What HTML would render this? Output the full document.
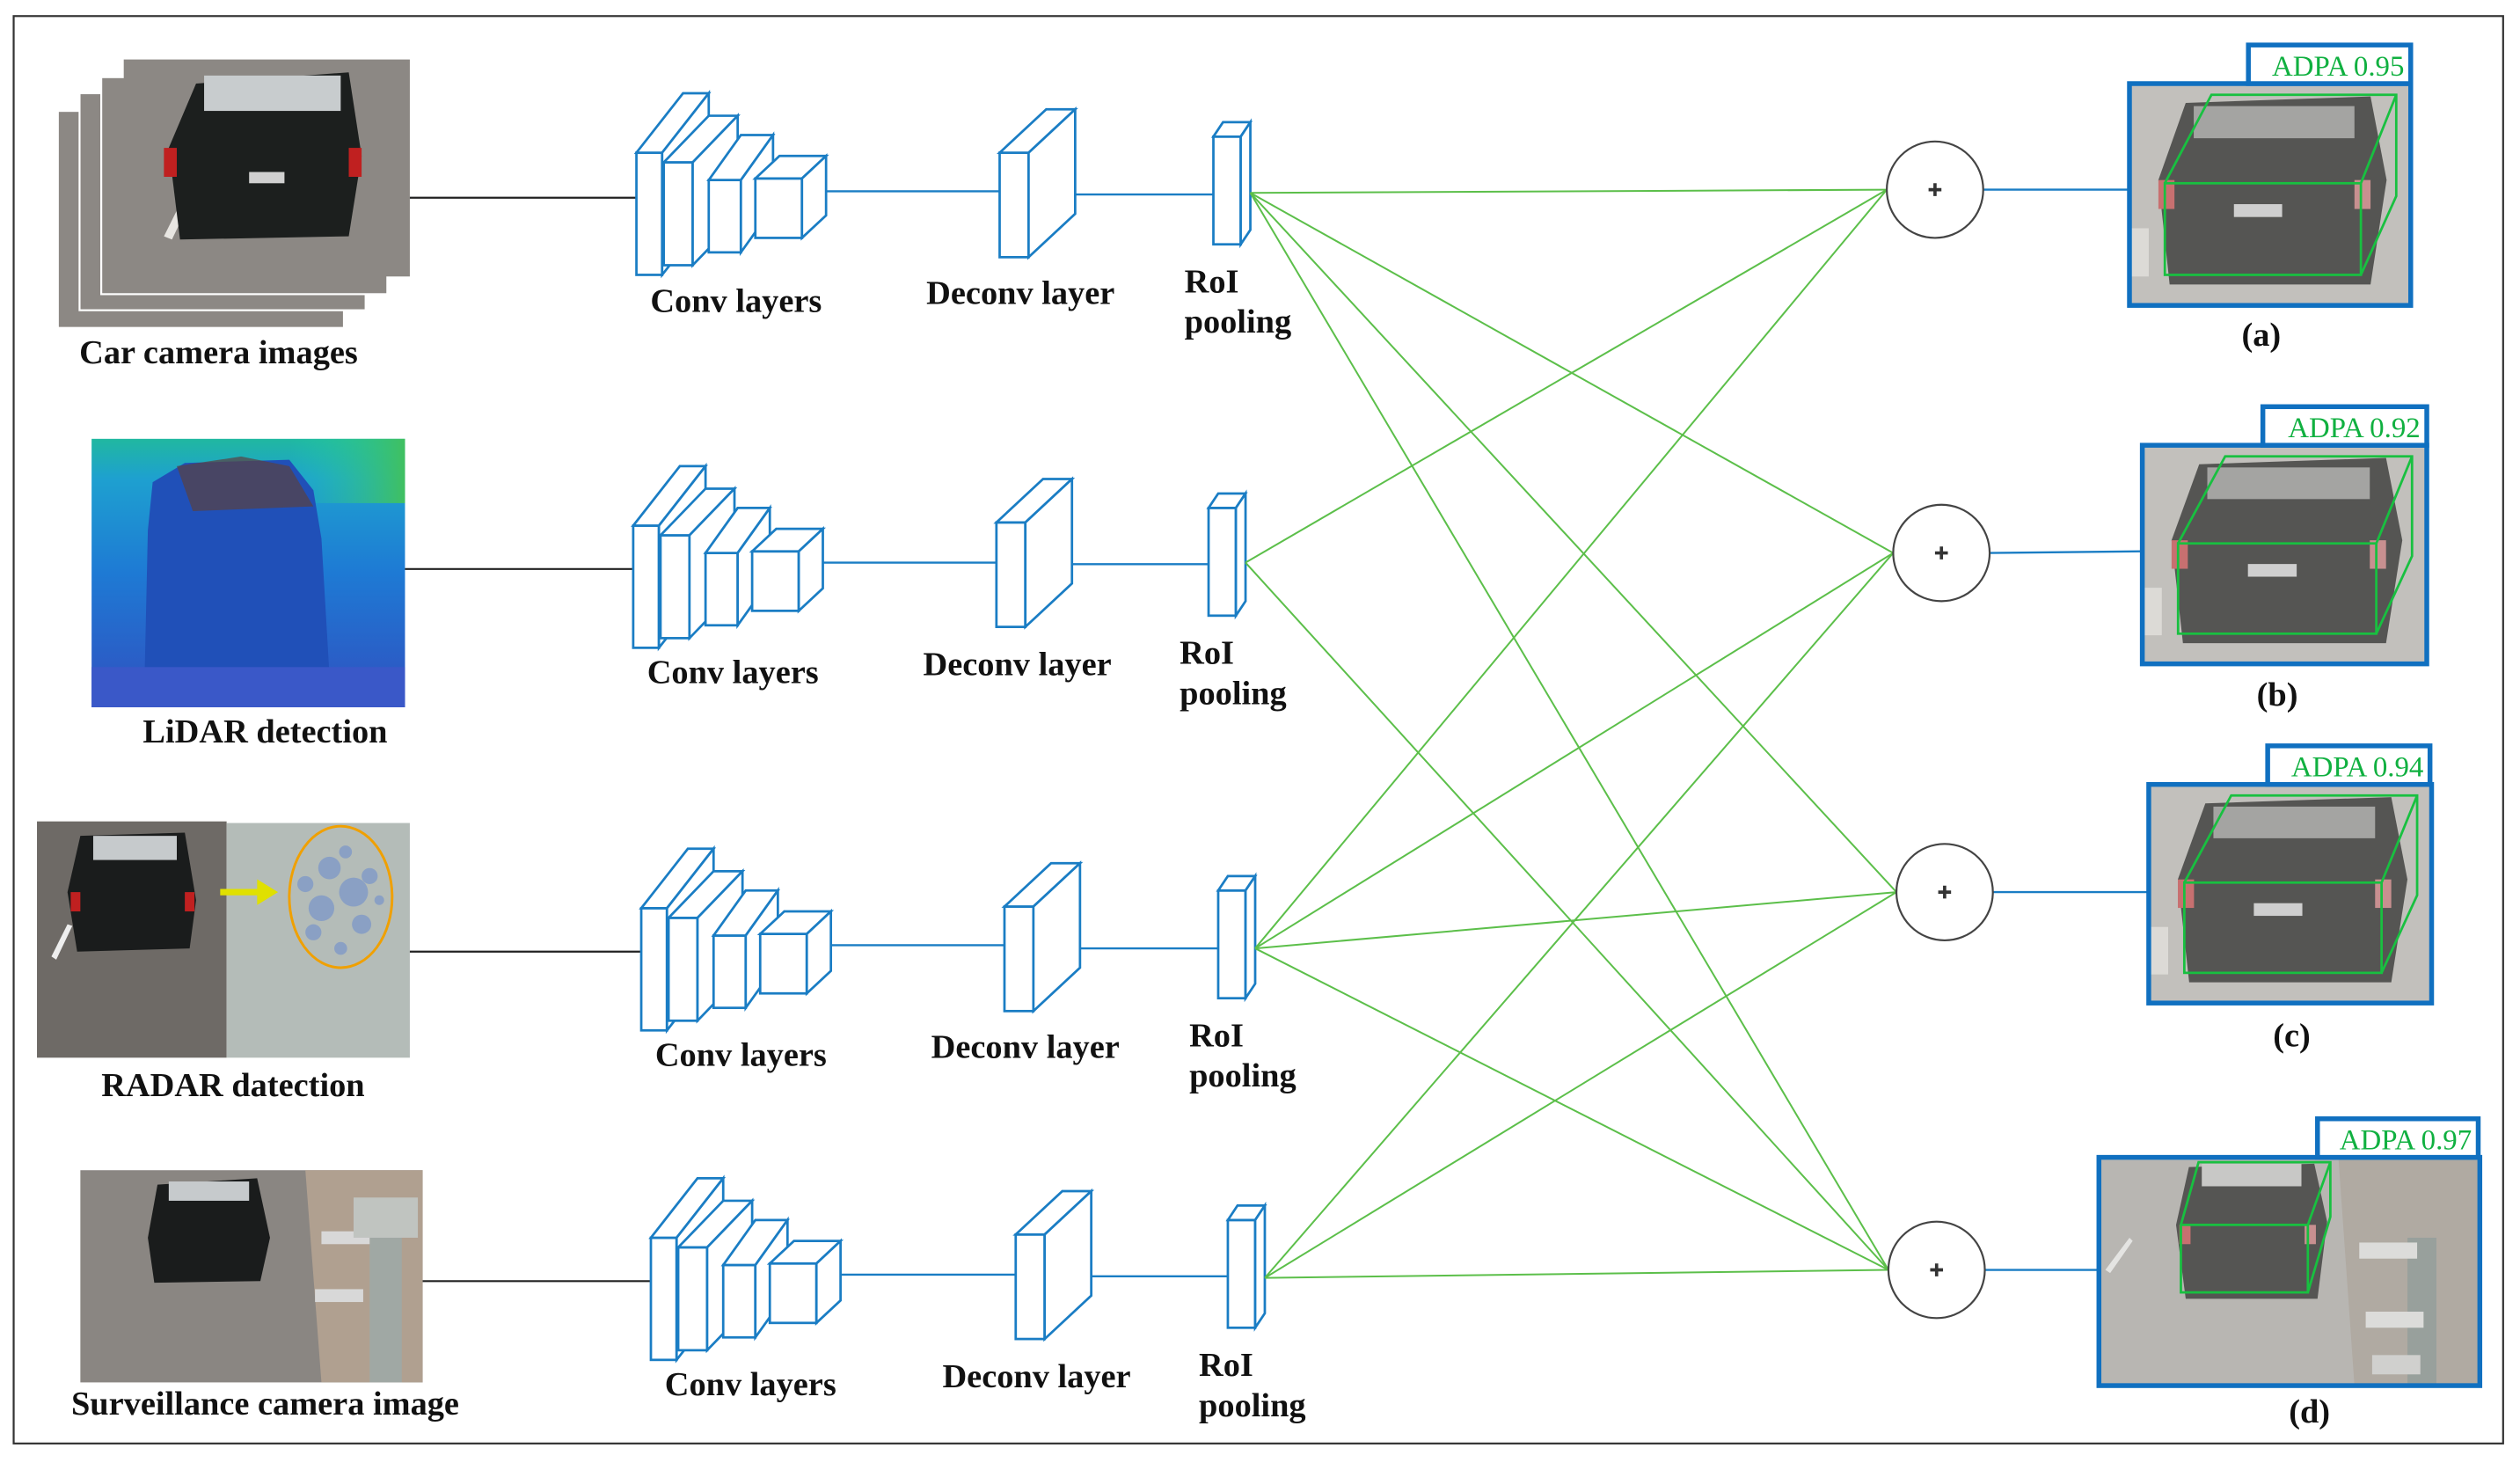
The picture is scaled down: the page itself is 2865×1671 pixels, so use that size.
<!DOCTYPE html>
<html><head><meta charset="utf-8"><style>
html,body{margin:0;padding:0;background:#fff;}
svg{display:block;}
text{font-family:"Liberation Serif",serif;}
.lb{font-weight:bold;font-size:21px;fill:#111;}
.ad{font-size:18px;fill:#10b040;}
</style></head><body>
<svg width="2865" height="1671" viewBox="0 0 1568 914.5" preserveAspectRatio="none" xmlns="http://www.w3.org/2000/svg">
<defs>
<g id="conv" fill="#fff" stroke="#1a7dc4" stroke-width="1.5" stroke-linejoin="miter">
 <rect x="0" y="38" width="16" height="76"/><polygon points="0,38 29,1 45,1 16,38"/><polygon points="16,38 45,1 45,77 16,114"/>
 <rect x="17" y="44" width="18" height="64"/><polygon points="17,44 45,15 63,15 35,44"/><polygon points="35,44 63,15 63,79 35,108"/>
 <rect x="45" y="55" width="20" height="45"/><polygon points="45,55 65,27 85,27 65,55"/><polygon points="65,55 85,27 85,72 65,100"/>
 <rect x="74" y="54" width="29" height="37"/><polygon points="74,54 89,40 118,40 103,54"/><polygon points="103,54 118,40 118,77 103,91"/>
</g>
<g id="deconv" fill="#fff" stroke="#1a7dc4" stroke-width="1.5">
 <rect x="0" y="27" width="18" height="65"/><polygon points="0,27 29,0 47,0 18,27"/><polygon points="18,27 47,0 47,65 18,92"/>
</g>
<g id="roi" fill="#fff" stroke="#1a7dc4" stroke-width="1.5">
 <rect x="0" y="9" width="17" height="67"/><polygon points="0,9 6,0 23,0 17,9"/><polygon points="17,9 23,0 23,67 17,76"/>
</g>
<g id="outpic">
 <rect x="0" y="0" width="175" height="138" fill="#c2c0bc"/>
 <rect x="0" y="90" width="12" height="30" fill="#dcdad6"/>
 <path d="M35,12 L150,8 L160,60 L150,125 L25,125 L18,60 Z" fill="#555553"/>
 <rect x="40" y="14" width="100" height="20" fill="#a4a4a2"/>
 <rect x="18" y="60" width="10" height="18" fill="#c87070"/><rect x="140" y="60" width="10" height="18" fill="#c89090"/>
 <rect x="65" y="75" width="30" height="8" fill="#cfcfcf"/>
 <g fill="none" stroke="#18c040" stroke-width="1.5">
  <rect x="22" y="62" width="122" height="57"/>
  <polyline points="22,62 51,7 166,7 166,70 144,119"/><line x1="144" y1="62" x2="166" y2="7"/>
 </g>
</g>
<g id="carimg">
 <rect x="0" y="0" width="178" height="135" fill="#8c8884"/>
 <path d="M25,110 L45,70 L50,70 L30,112Z" fill="#e8e6e2"/>
 <path d="M45,15 L140,8 L148,60 L140,110 L35,112 L28,55 Z" fill="#1c1f1e"/>
 <rect x="50" y="10" width="85" height="22" fill="#c8ccce"/>
 <rect x="25" y="55" width="8" height="18" fill="#c02020"/><rect x="140" y="55" width="8" height="18" fill="#c02020"/>
 <rect x="78" y="70" width="22" height="7" fill="#d0d0d0"/>
</g>
</defs>
<rect x="8.5" y="10" width="1549" height="888" fill="none" stroke="#333" stroke-width="1.2"/>

<g stroke="#fff" stroke-width="1.2">
 <rect x="36" y="69" width="178" height="135" fill="#8c8884"/>
 <rect x="49.5" y="58" width="178" height="135" fill="#8c8884"/>
 <rect x="63" y="48" width="178" height="135" fill="#8c8884"/>
</g>
<use href="#carimg" x="77" y="37"/>
<defs><linearGradient id="lg" x1="0" y1="0" x2="0" y2="1">
<stop offset="0" stop-color="#20b8a0"/><stop offset="0.15" stop-color="#1ea0d0"/><stop offset="0.5" stop-color="#1e7ad4"/><stop offset="1" stop-color="#3050c0"/></linearGradient>
<linearGradient id="lg2" x1="0" y1="0" x2="1" y2="0"><stop offset="0" stop-color="#20d0b0" stop-opacity="0"/><stop offset="1" stop-color="#40c060"/></linearGradient></defs>
<rect x="57" y="273" width="195" height="167" fill="url(#lg)"/>
<rect x="180" y="273" width="72" height="40" fill="url(#lg2)"/>
<path d="M95,300 L115,288 L180,286 L195,305 L200,335 L205,420 L90,420 L92,330Z" fill="#2050b8"/>
<path d="M110,290 L150,284 L180,290 L195,315 L120,318Z" fill="#5a4040" opacity="0.7"/>
<rect x="57" y="415" width="195" height="25" fill="#3a58c8"/>
<rect x="23" y="511" width="118" height="147" fill="#6e6a66"/>
<path d="M50,520 L115,518 L122,560 L118,590 L48,592 L42,555Z" fill="#1a1c1c"/>
<rect x="58" y="520" width="52" height="15" fill="#c6cacc"/>
<rect x="44" y="555" width="6" height="12" fill="#c02020"/><rect x="115" y="555" width="6" height="12" fill="#c02020"/>
<path d="M32,595 L42,575 L45,576 L35,597Z" fill="#eee"/>
<rect x="141" y="512" width="114" height="146" fill="#b4bcb8"/>
<line x1="137" y1="555" x2="165" y2="555" stroke="#e0e000" stroke-width="4"/>
<polygon points="160,547 173,555 160,563" fill="#e0e000"/>
<ellipse cx="212" cy="558" rx="32" ry="44" fill="#b4bcb8" stroke="#f0a000" stroke-width="1.6"/>
<g fill="#8aa0c4"><circle cx="205" cy="540" r="7"/><circle cx="220" cy="555" r="9"/><circle cx="200" cy="565" r="8"/><circle cx="225" cy="575" r="6"/><circle cx="195" cy="580" r="5"/><circle cx="212" cy="590" r="4"/><circle cx="230" cy="545" r="5"/><circle cx="190" cy="550" r="5"/><circle cx="215" cy="530" r="4"/><circle cx="236" cy="560" r="3"/></g>
<rect x="50" y="728" width="213" height="132" fill="#8a8682"/>
<path d="M98,737 L160,733 L168,770 L162,797 L96,798 L92,770Z" fill="#1a1c1c"/>
<rect x="105" y="735" width="50" height="12" fill="#c6cacc"/>
<path d="M190,728 L263,728 L263,860 L200,860Z" fill="#b0a090"/>
<rect x="230" y="765" width="20" height="95" fill="#a0a8a4"/>
<rect x="200" y="766" width="30" height="8" fill="#d8d8d8"/><rect x="196" y="802" width="30" height="8" fill="#d8d8d8"/><rect x="220" y="745" width="40" height="25" fill="#c0c4c0"/>

<g stroke="#222" stroke-width="1.2">
<line x1="255" y1="123" x2="396" y2="123"/><line x1="252" y1="354" x2="394" y2="354"/>
<line x1="255" y1="592" x2="399" y2="592"/><line x1="263" y1="797" x2="405" y2="797"/>
</g>
<g stroke="#1a7dc4" stroke-width="1.3">
<line x1="507" y1="119" x2="622" y2="119"/><line x1="660" y1="121" x2="755" y2="121"/>
<line x1="505" y1="350" x2="620" y2="350"/><line x1="658" y1="351" x2="752" y2="351"/>
<line x1="510" y1="588" x2="625" y2="588"/><line x1="665" y1="590" x2="758" y2="590"/>
<line x1="516" y1="793" x2="632" y2="793"/><line x1="670" y1="794" x2="764" y2="794"/>
<line x1="1234" y1="118" x2="1325" y2="118"/><line x1="1238" y1="344" x2="1333" y2="343"/>
<line x1="1240" y1="555" x2="1337" y2="555"/><line x1="1235" y1="790" x2="1306" y2="790"/>
</g>
<use href="#conv" x="396" y="57"/><use href="#conv" x="394" y="289"/><use href="#conv" x="399" y="527"/><use href="#conv" x="405" y="732"/>
<use href="#deconv" x="622" y="68"/><use href="#deconv" x="620" y="298"/><use href="#deconv" x="625" y="537"/><use href="#deconv" x="632" y="741"/>
<use href="#roi" x="755" y="76"/><use href="#roi" x="752" y="307"/><use href="#roi" x="758" y="545"/><use href="#roi" x="764" y="750"/>

<g stroke="#5cbf4a" stroke-width="1.1">
<line x1="778" y1="120" x2="1174" y2="118"/><line x1="778" y1="120" x2="1178" y2="344"/><line x1="778" y1="120" x2="1180" y2="555"/><line x1="778" y1="120" x2="1175" y2="790"/>
<line x1="775" y1="350" x2="1174" y2="118"/><line x1="775" y1="350" x2="1175" y2="790"/>
<line x1="781" y1="590" x2="1174" y2="118"/><line x1="781" y1="590" x2="1178" y2="344"/><line x1="781" y1="590" x2="1180" y2="555"/><line x1="781" y1="590" x2="1175" y2="790"/>
<line x1="787" y1="795" x2="1178" y2="344"/><line x1="787" y1="795" x2="1180" y2="555"/><line x1="787" y1="795" x2="1175" y2="790"/>
</g>
<g fill="#fff" stroke="#444" stroke-width="1.2">
<circle cx="1204" cy="118" r="30"/><circle cx="1208" cy="344" r="30"/><circle cx="1210" cy="555" r="30"/><circle cx="1205" cy="790" r="30"/>
</g>
<g stroke="#333" stroke-width="2">
<path d="M1200,118h8M1204,114v8"/><path d="M1204,344h8M1208,340v8"/><path d="M1206,555h8M1210,551v8"/><path d="M1201,790h8M1205,786v8"/>
</g>
<use href="#outpic" transform="translate(1325,52)"/>
<use href="#outpic" transform="translate(1333,277) scale(1.011,0.985)"/>
<use href="#outpic" transform="translate(1337,488) scale(1.006,0.985)"/>
<!-- (d) image -->
<rect x="1306" y="720" width="237" height="142" fill="#b8b6b2"/>
<path d="M1310,790 L1325,770 L1327,772 L1313,792Z" fill="#e4e4e2"/>
<path d="M1362,726 L1440,724 L1448,760 L1442,808 L1360,808 L1354,762Z" fill="#555553"/>
<rect x="1370" y="724" width="62" height="14" fill="#c8c8c6"/>
<rect x="1356" y="762" width="7" height="12" fill="#c87070"/><rect x="1434" y="762" width="7" height="12" fill="#c89090"/>
<path d="M1455,720 L1543,720 L1543,862 L1465,862Z" fill="#b0aaa2"/>
<rect x="1498" y="770" width="18" height="92" fill="#98a09c"/>
<rect x="1468" y="773" width="36" height="10" fill="#dcdcda"/><rect x="1472" y="816" width="36" height="10" fill="#dcdcda"/><rect x="1476" y="843" width="30" height="12" fill="#d0d0ce"/>
<g fill="none" stroke="#18c040" stroke-width="1.5">
 <rect x="1357" y="762" width="79" height="42"/>
 <polyline points="1357,762 1368,723 1450,723 1450,757 1436,804"/><line x1="1436" y1="762" x2="1450" y2="723"/>
</g>
<g fill="none" stroke="#1070c0" stroke-width="3">
<rect x="1325" y="52" width="175" height="138"/><rect x="1399" y="28" width="101" height="24" fill="#fff"/>
<rect x="1333" y="277" width="177" height="136"/><rect x="1408" y="253" width="102" height="24" fill="#fff"/>
<rect x="1337" y="488" width="176" height="136"/><rect x="1411" y="464" width="101" height="24" fill="#fff"/>
<rect x="1306" y="720" width="237" height="142"/><rect x="1442" y="696" width="100" height="24" fill="#fff"/>
</g>
<text class="ad" x="1496" y="47" text-anchor="end">ADPA 0.95</text>
<text class="ad" x="1506" y="272" text-anchor="end">ADPA 0.92</text>
<text class="ad" x="1508" y="483" text-anchor="end">ADPA 0.94</text>
<text class="ad" x="1538" y="715" text-anchor="end">ADPA 0.97</text>

<g class="lb" text-anchor="middle">
<text x="136" y="226">Car camera images</text>
<text x="165" y="462">LiDAR detection</text>
<text x="145" y="682">RADAR datection</text>
<text x="165" y="880">Surveillance camera image</text>
<text x="458" y="194">Conv layers</text><text x="456" y="425">Conv layers</text><text x="461" y="663">Conv layers</text><text x="467" y="868">Conv layers</text>
<text x="635" y="189">Deconv layer</text><text x="633" y="420">Deconv layer</text><text x="638" y="658">Deconv layer</text><text x="645" y="863">Deconv layer</text>
<text x="1407" y="215">(a)</text><text x="1417" y="439">(b)</text><text x="1426" y="651">(c)</text><text x="1437" y="885">(d)</text>
</g>
<g class="lb">
<text x="737" y="182">RoI</text><text x="737" y="207">pooling</text>
<text x="734" y="413">RoI</text><text x="734" y="438">pooling</text>
<text x="740" y="651">RoI</text><text x="740" y="676">pooling</text>
<text x="746" y="856">RoI</text><text x="746" y="881">pooling</text>
</g>
</svg>
</body></html>
